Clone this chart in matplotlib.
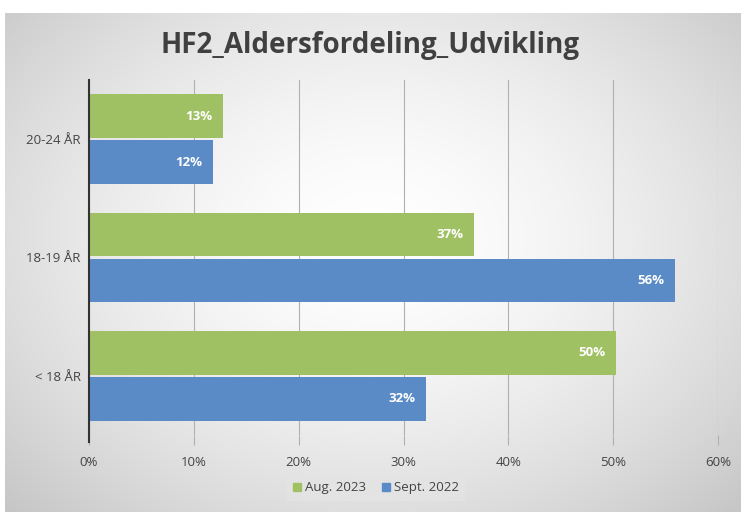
import numpy as np
import matplotlib
matplotlib.use("Agg")
import matplotlib.pyplot as plt
from matplotlib.patches import Patch

categories = ["20-24 ÅR", "18-19 ÅR", "< 18 ÅR"]
aug_2023 = [12.8, 36.7, 50.3]
sept_2022 = [11.8, 55.9, 32.1]
series_names = ["Aug. 2023", "Sept. 2022"]
xticks = [0, 10, 20, 30, 40, 50, 60]

green = "#9FC164"
blue = "#5B8BC6"
font = "Open Sans"

W, H = 741, 512
fig = plt.figure(figsize=(W / 100, H / 100), dpi=100)
fig.patch.set_facecolor("white")

# background panel with radial gradient
bg = fig.add_axes([5 / W, 0, 1 - 5 / W, 1 - 13 / H], zorder=-10)
ny, nx = 200, 300
yy, xx = np.mgrid[0:ny, 0:nx]
cx, cy = nx * 0.5, ny * 0.45
r = np.sqrt(((xx - cx) / (nx * 0.5)) ** 2 + ((yy - cy) / (ny * 0.55)) ** 2)
val = 1.0 - 0.13 * np.clip(r, 0, 1.6) ** 1.6
img = np.dstack([val, val, val])
bg.imshow(img, aspect="auto", extent=[0, 1, 0, 1], interpolation="bicubic")
bg.set_axis_off()

ax = fig.add_axes([89 / W, 1 - 435 / H, (718 - 89) / W, (435 - 80) / H])
ax.set_facecolor("none")

y = np.arange(len(categories))
h = 0.37
gap = 0.01
bars_g = ax.barh(y - h / 2 - gap, aug_2023, height=h, color=green, zorder=3)
bars_b = ax.barh(y + h / 2 + gap, sept_2022, height=h, color=blue, zorder=3)

for bars, vals in ((bars_g, aug_2023), (bars_b, sept_2022)):
    for b, v in zip(bars, vals):
        ax.text(v - 1.0, b.get_y() + b.get_height() / 2, f"{round(v)}%",
                ha="right", va="center", color="white", fontsize=9.5,
                fontweight="bold", family=font, zorder=4)

ax.set_xlim(0, 60)
ax.set_ylim(2.5, -0.5)
ax.set_xticks(xticks)
ax.set_xticklabels([f"{t}%" for t in xticks], fontsize=9.5, color="#444444", family=font)
ax.set_yticks(y)
ax.set_yticklabels(categories, fontsize=9.5, color="#444444", family=font)
ax.grid(axis="x", color="#B0B0B0", linewidth=0.8, zorder=0)
ax.tick_params(axis="y", length=0, pad=6)
ax.tick_params(axis="x", length=7, color="#B0B0B0", width=0.8, pad=8)
for s in ["top", "right", "bottom"]:
    ax.spines[s].set_visible(False)
ax.spines["left"].set_color("#333333")
ax.spines["left"].set_linewidth(1.5)
ax.spines["left"].set_bounds(2.5 + 0.06, -0.5)
ax.spines["left"].set_zorder(5)

fig.text(0.5, 1 - 45 / H, "HF2_Aldersfordeling_Udvikling", ha="center", va="center",
         fontsize=20, fontweight="bold", color="#404040", family=font)

handles = [Patch(color=green), Patch(color=blue)]
leg = fig.legend(handles, series_names, loc="center", bbox_to_anchor=(376 / W, 1 - 488 / H),
                 ncol=2, frameon=True, handlelength=0.6, handleheight=0.6,
                 handletextpad=0.3, columnspacing=1.2, borderpad=0.5,
                 prop={"family": font, "size": 9.5})
leg.get_frame().set_facecolor("#E4E4E4")
leg.get_frame().set_edgecolor("none")
leg.get_frame().set_boxstyle("square", pad=0)
for t in leg.get_texts():
    t.set_color("#444444")

fig.savefig("out.png", dpi=100)
